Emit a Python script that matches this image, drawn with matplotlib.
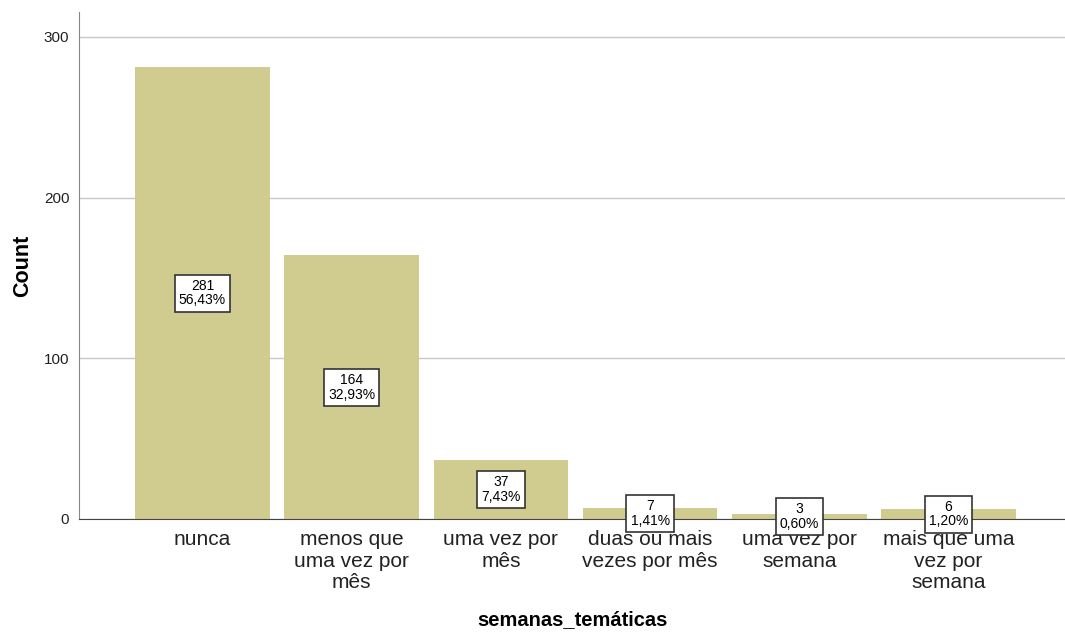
import matplotlib.pyplot as plt

plt.rcParams['font.family'] = ['Liberation Sans', 'DejaVu Sans']

categories = ['nunca', 'menos que\numa vez por\nmês', 'uma vez por\nmês',
              'duas ou mais\nvezes por mês', 'uma vez por\nsemana',
              'mais que uma\nvez por\nsemana']
counts = [281, 164, 37, 7, 3, 6]
percents = ['56,43%', '32,93%', '7,43%', '1,41%', '0,60%', '1,20%']

fig = plt.figure(figsize=(10.65, 6.35), dpi=100)
ax = fig.add_axes([79 / 1065, 1 - 519 / 635, (1065 - 79) / 1065, (519 - 12) / 635])

x = range(len(categories))
ax.bar(x, counts, width=0.9, color='#d0cb8e', zorder=2)

# count + percent boxes in the middle of each bar
for i, (c, p) in enumerate(zip(counts, percents)):
    ax.text(i, c / 2, '%d\n%s' % (c, p), ha='center', va='center', fontsize=10,
            linespacing=1.05, zorder=3,
            bbox=dict(boxstyle='square,pad=0.3', fc='white', ec='#333333', lw=1.2))

ax.set_xlim(-0.827, 5.78)
ax.set_ylim(0, 315.5)
ax.set_yticks([0, 100, 200, 300])
ax.yaxis.grid(True, color='#c8c8c8', lw=1, zorder=0)
ax.set_axisbelow(True)
ax.set_xticks(list(x))
ax.set_xticklabels(categories, fontsize=15, linespacing=1.17, color='#222222')
ax.tick_params(axis='x', length=0, pad=8)
ax.tick_params(axis='y', length=0, pad=7, labelsize=11, labelcolor='#222222')

for s in ['top', 'right']:
    ax.spines[s].set_visible(False)
ax.spines['left'].set_color('#888888')
ax.spines['bottom'].set_color('#444444')

ax.set_ylabel('Count', fontsize=15.5, fontweight='bold', labelpad=8)
ax.set_xlabel('semanas_temáticas', fontsize=14.5, fontweight='bold', labelpad=13)

fig.savefig('out.png', dpi=100)
